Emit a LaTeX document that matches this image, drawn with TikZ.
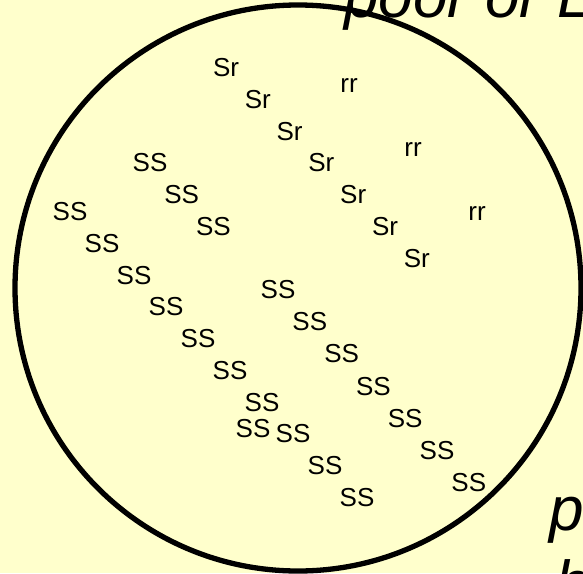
\documentclass[tikz,border=0pt]{standalone}
\usepackage{fontspec}
\setmainfont{Liberation Sans}
\definecolor{bgy}{HTML}{FFFFCC}
\begin{document}
\begin{tikzpicture}[x=1pt,y=-1pt,
  gen/.style={inner sep=0pt,anchor=base,font=\fontsize{26}{30}\selectfont},
  big/.style={inner sep=0pt,anchor=base west,font=\fontsize{62}{70}\selectfont\itshape,align=left}]
\fill[bgy] (0,0) rectangle (583,573);
\useasboundingbox (0,0) rectangle (583,573);
\draw[line width=5.3pt,fill=bgy] (298,288) circle[radius=283];
% top and bottom texts
\node[big] (top) at (344,17) {poor or L};
\node[big] (bot) at (549,530) {p};
\node[big] (bot2) at (555,604) {h};
% Sr diagonal
\foreach \i in {0,...,6}{
  \node[gen] (sr\i) at ({226+31.8*\i},{76.5+31.8*\i}) {Sr};
}
% rr
\node[gen] (rr1) at (349,92) {rr};
\node[gen] (rr2) at (413,156.5) {rr};
\node[gen] (rr3) at (477,220) {rr};
% SS diagonal A
\foreach \i in {0,...,2}{
  \node[gen] (sa\i) at ({150+31.7*\i},{171.5+31.8*\i}) {SS};
}
% SS diagonal B
\foreach \i in {0,...,6}{
  \node[gen] (sb\i) at ({70+32*\i},{220.5+31.8*\i}) {SS};
}
% SS diagonal C
\foreach \i in {0,...,6}{
  \node[gen] (sc\i) at ({278+31.8*\i},{298.5+32.2*\i}) {SS};
}
% SS diagonal D
\foreach \i in {0,...,2}{
  \node[gen] (sd\i) at ({293+32*\i},{442.5+32*\i}) {SS};
}
\node[gen] (se) at (253,437.5) {SS};
\end{tikzpicture}
\end{document}
